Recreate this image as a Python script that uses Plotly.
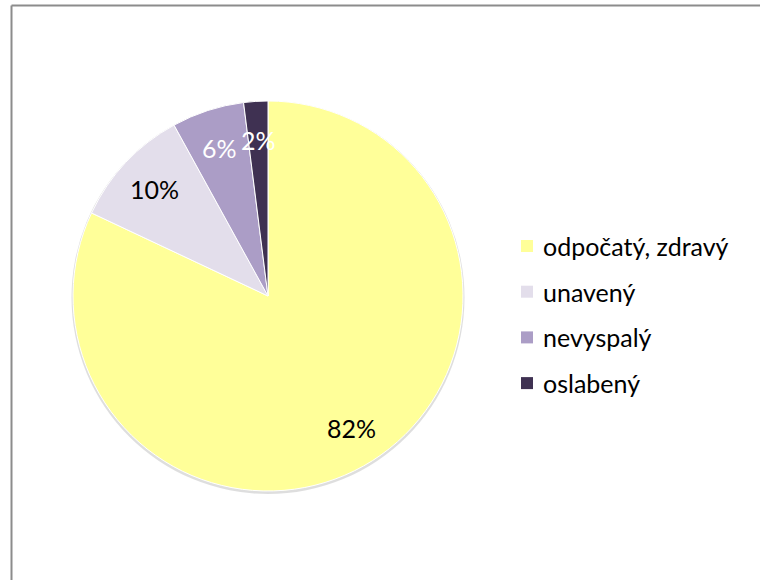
import math
import plotly.graph_objects as go

# Survey answers and their shares (percent)
labels = ["odpočatý, zdravý", "unavený", "nevyspalý", "oslabený"]
values = [82, 10, 6, 2]
colors = ["#FFFF99", "#E3DEEB", "#AB9DC6", "#3F3152"]
text_colors = ["black", "black", "white", "white"]

W, H = 760, 580
FONT = "Lato"
FSIZE = 25

# Pie geometry in pixels
cx, cy, r = 268, 296, 195
dom_x = [(cx - r) / W, (cx + r) / W]
dom_y = [(H - cy - r) / H, (H - cy + r) / H]

fig = go.Figure()
fig.add_trace(go.Pie(
    labels=labels,
    values=values,
    sort=False,
    direction="clockwise",
    rotation=0,
    marker=dict(colors=colors, line=dict(color="white", width=1)),
    textinfo="none",
    hoverinfo="label+percent",
    showlegend=False,
    domain=dict(x=dom_x, y=dom_y),
))

shapes = []
annotations = []

# soft shadow under the pie
shapes.append(dict(
    type="circle", xref="paper", yref="paper", layer="below",
    x0=(cx - r - 1.5) / W, x1=(cx + r + 1.5) / W,
    y0=(H - cy - r - 3) / H, y1=(H - cy + r) / H,
    fillcolor="rgba(0,0,0,0.13)", line=dict(width=0),
))

# percent labels placed along the middle angle of each slice
total = sum(values)
start = 90.0
for v, tc in zip(values, text_colors):
    sweep = 360.0 * v / total
    mid = math.radians(start - sweep / 2)
    start -= sweep
    px = cx + 0.8 * r * math.cos(mid)
    py = cy - 0.8 * r * math.sin(mid)
    annotations.append(dict(
        x=px / W, y=(H - py) / H, xref="paper", yref="paper",
        text=f"{v}%", showarrow=False,
        font=dict(family=FONT, size=FSIZE, color=tc),
        xanchor="center", yanchor="middle",
    ))

# legend drawn as colour squares with labels
leg_x, leg_y0, leg_dy, sq = 521, 246, 45.7, 12
for i, (lab, col) in enumerate(zip(labels, colors)):
    yc = leg_y0 + i * leg_dy
    shapes.append(dict(
        type="rect", xref="paper", yref="paper",
        x0=leg_x / W, x1=(leg_x + sq) / W,
        y0=(H - yc - sq / 2) / H, y1=(H - yc + sq / 2) / H,
        fillcolor=col, line=dict(width=0),
    ))
    annotations.append(dict(
        x=(leg_x + sq + 8) / W, y=(H - yc) / H, xref="paper", yref="paper",
        text=lab, showarrow=False,
        font=dict(family=FONT, size=FSIZE, color="black"),
        xanchor="left", yanchor="middle",
    ))

# chart area frame (top and left edges visible)
shapes.append(dict(type="line", xref="paper", yref="paper",
                   x0=11.5 / W, x1=1.0, y0=(H - 5.5) / H, y1=(H - 5.5) / H,
                   line=dict(color="#8C8C8C", width=2)))
shapes.append(dict(type="line", xref="paper", yref="paper",
                   x0=11.5 / W, x1=11.5 / W, y0=0.0, y1=(H - 5.5) / H,
                   line=dict(color="#8C8C8C", width=2)))

fig.update_layout(
    width=W, height=H,
    margin=dict(l=0, r=0, t=0, b=0),
    paper_bgcolor="white",
    plot_bgcolor="white",
    shapes=shapes,
    annotations=annotations,
)

fig.write_html("out.html")
